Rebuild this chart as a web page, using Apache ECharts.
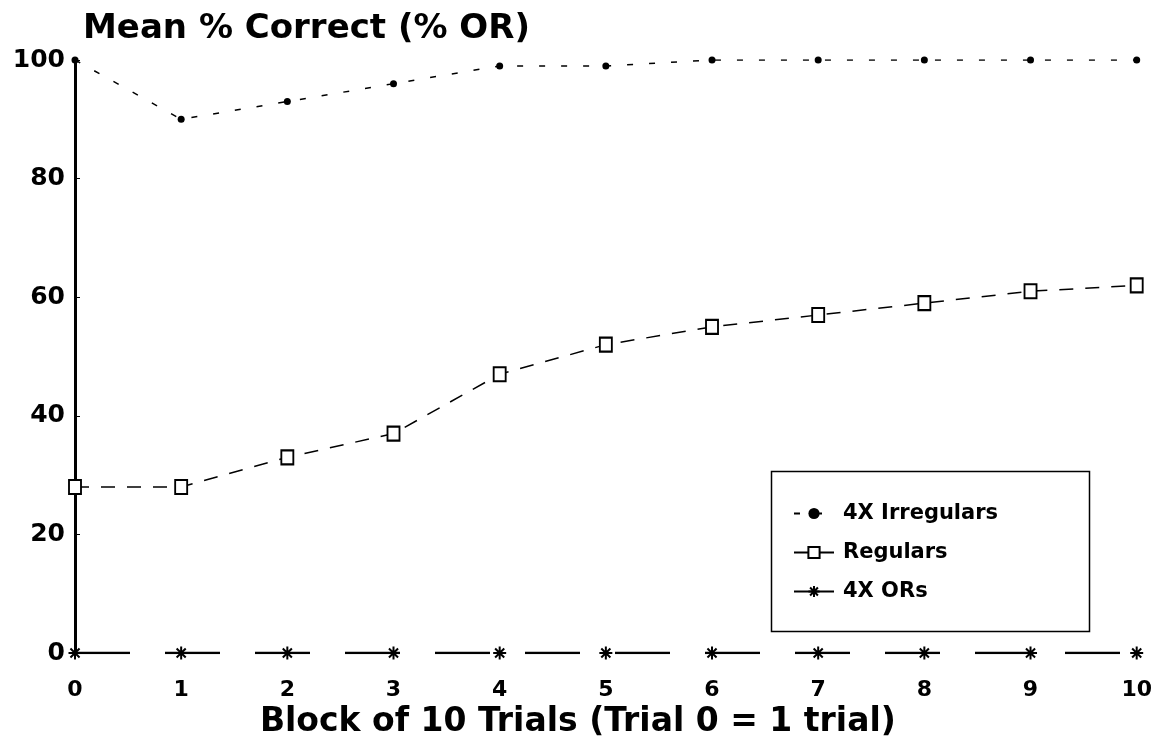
<!DOCTYPE html>
<html>
<head>
<meta charset="utf-8">
<script src="https://cdn.jsdelivr.net/npm/echarts@6/dist/echarts.min.js"></script>
<style>
  html, body { margin: 0; padding: 0; background: #fff; }
  #chart { width: 1155px; height: 752px; }
</style>
</head>
<body>
<div id="chart"></div>
<script>
// Block numbers (Trial 0 = a single trial, then blocks of 10 trials)
const blocks = [0, 1, 2, 3, 4, 5, 6, 7, 8, 9, 10];
const yTicks = [0, 20, 40, 60, 80, 100];

// Mean % correct per block for each group
const irregulars4x = [100, 90, 93, 96, 99, 99, 100, 100, 100, 100, 100];
const regulars     = [28, 28, 33, 37, 47, 52, 55, 57, 59, 61, 62];
const ors4x        = [0, 0, 0, 0, 0, 0, 0, 0, 0, 0, 0];

const seriesNames = ['4X Irregulars', 'Regulars', '4X ORs'];

const FONT = 'DejaVu Sans';
const asterisk = 'path://M5,0 L5,10 M0,5 L10,5 M1.5,1.5 L8.5,8.5 M8.5,1.5 L1.5,8.5';

const pairs = vals => blocks.map((b, i) => [b, vals[i]]);

const chart = echarts.init(document.getElementById('chart'), null, { renderer: 'canvas' });

chart.setOption({
  backgroundColor: '#ffffff',
  animation: false,
  title: {
    text: 'Mean % Correct (% OR)',
    left: 78,
    top: 7,
    textStyle: { fontFamily: FONT, fontWeight: 'bold', fontSize: 34, color: '#000' }
  },
  grid: { left: 75, right: 15, top: 60, bottom: 99, containLabel: false },
  xAxis: {
    type: 'value',
    min: 0,
    max: 10,
    interval: 1,
    name: 'Block of 10 Trials (Trial 0 = 1 trial)',
    nameLocation: 'middle',
    nameGap: 52,
    nameTextStyle: {
      fontFamily: FONT, fontWeight: 'bold', fontSize: 33, color: '#000',
      padding: [0, 56, 0, 0]
    },
    axisLine: { show: false },
    axisTick: { show: false },
    splitLine: { show: false },
    axisLabel: {
      margin: 26,
      fontFamily: FONT, fontWeight: 'bold', fontSize: 22, color: '#000',
      formatter: v => String(v)
    }
  },
  yAxis: {
    type: 'value',
    min: yTicks[0],
    max: yTicks[yTicks.length - 1],
    interval: 20,
    axisLine: { show: true, lineStyle: { color: '#000', width: 3 } },
    axisTick: { show: true, inside: true, length: 5, lineStyle: { color: '#000', width: 1 } },
    splitLine: { show: false },
    axisLabel: {
      margin: 10,
      fontFamily: FONT, fontWeight: 'bold', fontSize: 25, color: '#000'
    }
  },
  legend: {
    orient: 'vertical',
    left: 788,
    top: 498,
    itemWidth: 40,
    itemHeight: 14,
    itemGap: 18,
    data: seriesNames,
    textStyle: { fontFamily: FONT, fontWeight: 'bold', fontSize: 21, color: '#000', padding: [0, 0, 0, 4] }
  },
  graphic: [{
    type: 'rect',
    left: 769,
    top: 469,
    shape: { width: 318, height: 160 },
    style: { fill: 'none', stroke: '#000', lineWidth: 1.5 },
    z: 1
  }],
  series: [
    {
      name: seriesNames[0],
      type: 'line',
      data: pairs(irregulars4x),
      symbol: 'circle',
      symbolSize: 7,
      itemStyle: { color: '#000' },
      lineStyle: { color: '#000', width: 1.5, type: [6, 16] },
      z: 3
    },
    {
      name: seriesNames[1],
      type: 'line',
      data: pairs(regulars),
      symbol: 'emptyRect',
      symbolSize: [12, 14],
      itemStyle: { color: '#000', borderColor: '#000', borderWidth: 1.5 },
      lineStyle: { color: '#000', width: 1.5, type: [14, 12] },
      z: 3
    },
    {
      name: seriesNames[2],
      type: 'line',
      data: pairs(ors4x),
      symbol: asterisk,
      symbolSize: 13,
      itemStyle: { color: '#000', borderColor: '#000', borderWidth: 2 },
      lineStyle: { color: '#000', width: 2.5, type: [55, 35] },
      z: 4
    }
  ]
});
</script>
</body>
</html>
